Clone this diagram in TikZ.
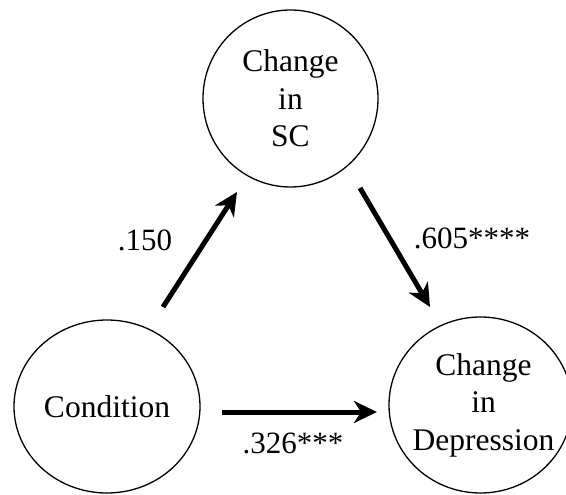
\documentclass[tikz,border=0pt]{standalone}
\usepackage{fontspec}
\setmainfont{Liberation Serif}
\usetikzlibrary{arrows.meta,shapes.geometric}
\begin{document}
\begin{tikzpicture}[x=1pt,y=-1pt,
  var/.style={draw, line width=1.3pt, ellipse, inner sep=0pt, align=center,
    font=\fontsize{31.5}{37.5}\selectfont},
  effect/.style={line width=5pt, -{Stealth[length=23pt,width=22pt,inset=7pt]}},
  lab/.style={font=\fontsize{31}{36}\selectfont, inner sep=0pt}]
\useasboundingbox (0,0) rectangle (566,495);
\node[var, minimum width=175pt, minimum height=177pt] (sc) at (290.5,98.5) {Change\\in\\SC};
\node[var, minimum width=186pt, minimum height=173pt] (cond) at (107,406.5) {\makebox[0pt]{\raisebox{-5pt}{Condition}}};
\node[var, minimum width=183pt, minimum height=176pt] (dep) at (480.5,405) {\makebox[0pt]{\hspace*{6pt}\begin{tabular}{@{}c@{}}Change\\in\\Depression\end{tabular}}};
\coordinate (a1s) at (163,307);
\coordinate (a1e) at (237,192);
\coordinate (a2s) at (360,188);
\coordinate (a2e) at (430,307);
\coordinate (a3s) at (222,412);
\coordinate (a3e) at (377,412);
\draw[effect] (a1s) -- (a1e);
\draw[effect] (a2s) -- (a2e);
\draw[effect] (a3s) -- (a3e);
\node[lab] (l1) at (145,240) {.150};
\node[lab] (l2) at (472,238) {.605****};
\node[lab] (l3) at (293,443) {.326***};
\end{tikzpicture}
\end{document}
